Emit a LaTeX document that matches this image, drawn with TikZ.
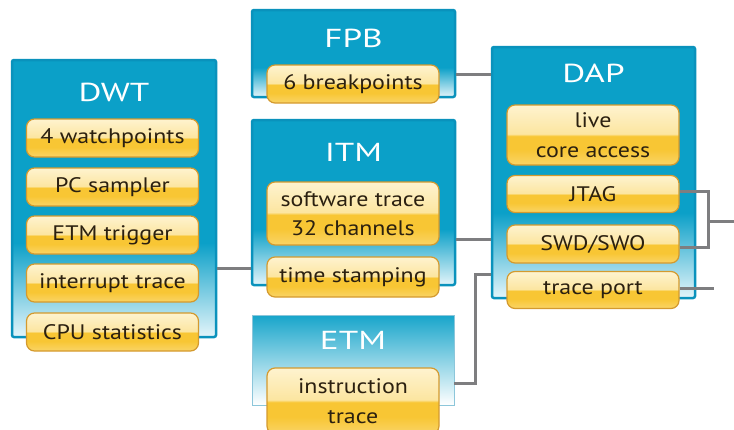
\documentclass[tikz,border=0pt]{standalone}
\usepackage{fontspec}
\setmainfont{PT Sans}
\newfontfamily\itemfont{PT Sans}[FakeStretch=1.14]
\newfontfamily\titlefont{PT Sans}[FakeStretch=1.35]
\usetikzlibrary{calc}
\definecolor{teal1}{HTML}{0BA0C8}
\definecolor{tealb}{HTML}{0A92BC}
\definecolor{tealL}{HTML}{E4F5FA}
\definecolor{goldA}{HTML}{F8C634}
\definecolor{goldL}{HTML}{FEF3CF}
\definecolor{goldB}{HTML}{D49A2E}
\definecolor{wire}{HTML}{7E7E80}
\definecolor{ink}{HTML}{2B2010}
\definecolor{etmb}{HTML}{8CC6DA}
\pgfdeclareverticalshading{panelshade}{100bp}{color(0bp)=(tealL); color(25bp)=(tealL); color(42bp)=(teal1); color(100bp)=(teal1)}
\pgfdeclareverticalshading{boxshade}{100bp}{color(0bp)=(goldA!75!white); color(25bp)=(goldA!75!white); color(38bp)=(goldA); color(49bp)=(goldA); color(51bp)=(goldL!70!goldA); color(75bp)=(goldL); color(100bp)=(goldL)}
\tikzset{
  panel/.style={draw=tealb, line width=2.5pt, rounded corners=2pt, shading=panelshade, inner sep=0pt},
  etmpanel/.style={draw=etmb, line width=0.8pt, top color=teal1!95!white, bottom color=white, inner sep=0pt},
  ptitle/.style={text=white, font=\titlefont\fontsize{26}{28}\selectfont, inner sep=0pt},
  item/.style={draw=goldB, line width=1.2pt, rounded corners=8pt, shading=boxshade, text=ink,
    font=\itemfont\fontsize{21}{29.5}\selectfont, align=center, inner sep=0pt, minimum width=172pt},
  wire/.style={draw=wire, line width=3pt},
}
\begin{document}
\begin{tikzpicture}[x=1pt,y=-1pt]
\useasboundingbox (0,0) rectangle (734,429);
\clip (0,0) rectangle (734,429);
% panels
\node[panel, minimum width=204pt, minimum height=277pt] (dwt) at (114,198.5) {};
\node[panel, minimum width=203pt, minimum height=87pt] (fpb) at (353.5,53.5) {};
\node[panel, minimum width=203pt, minimum height=165pt] (itm) at (353.5,202.5) {};
\node[etmpanel, minimum width=202pt, minimum height=90pt] (etm) at (353,360) {};
\node[panel, minimum width=203pt, minimum height=251pt] (dap) at (593.5,172.5) {};
% titles
\node[ptitle] (tdwt) at (114,92) {DWT};
\node[ptitle] (tfpb) at (353.5,38) {FPB};
\node[ptitle] (titm) at (353.5,152) {ITM};
\node[ptitle] (tetm) at (353,340) {ETM};
\node[ptitle] (tdap) at (593.5,73) {DAP};
% DWT items
\node[item, minimum height=38pt] (wp) at (112.5,138) {4 watchpoints};
\node[item, minimum height=38pt] (pc) at (112.5,187) {PC sampler};
\node[item, minimum height=38pt] (etr) at (112.5,235) {ETM trigger};
\node[item, minimum height=38pt] (irq) at (112.5,283) {interrupt trace};
\node[item, minimum height=38pt] (cpu) at (112.5,332) {CPU statistics};
% FPB
\node[item, minimum height=38pt] (bp) at (353,84) {6 breakpoints};
% ITM
\node[item, minimum height=63pt] (sw) at (353,213.5) {software trace\\32 channels};
\node[item, minimum height=40pt] (ts) at (353,277) {time stamping};
% ETM
\node[item, minimum height=66pt] (it) at (353,401) {instruction\\trace};
% DAP
\node[item, minimum height=60pt] (live) at (593,135) {live\\core access};
\node[item, minimum height=37pt] (jtag) at (593,194) {JTAG};
\node[item, minimum height=38pt] (swd) at (593,244) {SWD/SWO};
\node[item, minimum height=37pt] (tp) at (593,290) {trace port};
% wires
\coordinate (o1) at (734,221);
\coordinate (o2) at (714,288);
\draw[wire] (fpb.east |- 0,74) -- (dap.west |- 0,74);
\draw[wire] (dwt.east |- 0,268) -- (itm.west |- 0,268);
\draw[wire] (itm.east |- 0,239) -- (dap.west |- 0,239);
\draw[wire] (etm.east |- 0,383) -- (475,383) -- (475,274) -- (dap.west |- 0,274);
\draw[wire] (jtag.east |- 0,191) -- (708,191) -- (708,247) -- (swd.east |- 0,247);
\draw[wire] (708,221) -- (o1);
\draw[wire] (tp.east |- 0,288) -- (o2);
\end{tikzpicture}
\end{document}
